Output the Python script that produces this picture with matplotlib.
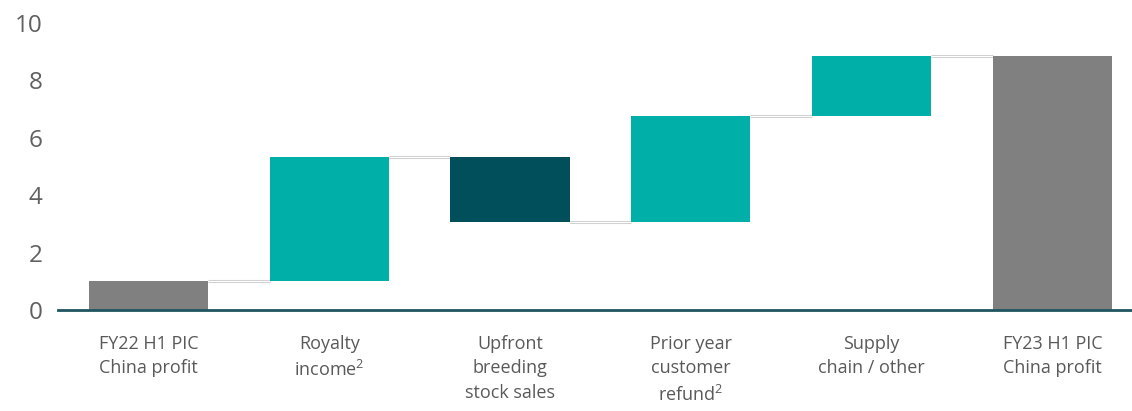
import matplotlib
matplotlib.use("Agg")
import matplotlib.pyplot as plt

categories = ["FY22 H1 PIC\nChina profit", "Royalty\nincome$^{\\mathregular{2}}$",
              "Upfront\nbreeding\nstock sales", "Prior year\ncustomer\nrefund$^{\\mathregular{2}}$",
              "Supply\nchain / other", "FY23 H1 PIC\nChina profit"]
starts = [0.0, 1.0, 5.33, 3.05, 6.75, 0.0]
ends = [1.0, 5.33, 3.05, 6.75, 8.85, 8.85]
kinds = ["total", "up", "down", "up", "up", "total"]
yticks = [0, 2, 4, 6, 8, 10]

colors = {"total": "#808080", "up": "#00B0A8", "down": "#004F5A"}
plt.rcParams['font.family'] = ['Open Sans', 'DejaVu Sans']
plt.rcParams['mathtext.fontset'] = 'custom'
plt.rcParams['mathtext.rm'] = 'Open Sans'

fig = plt.figure(figsize=(11.32, 4.11), dpi=100)
ax = fig.add_axes([58/1132, 1 - 310/411, 1 - 58/1132, (310 - 23)/411])

w = 0.66
x = list(range(len(categories)))
for i in x:
    lo, hi = min(starts[i], ends[i]), max(starts[i], ends[i])
    ax.bar(i, hi - lo, bottom=lo, width=w, color=colors[kinds[i]], zorder=2)

for i in range(len(categories) - 1):
    lvl = ends[i]
    ax.plot([i + w/2, i + 1 - w/2], [lvl, lvl], color="#cfcfcf", lw=2.2, zorder=1,
            solid_capstyle='butt')
    ax.plot([i + w/2, i + 1 - w/2], [lvl, lvl], color="white", lw=0.8, zorder=1.5,
            solid_capstyle='butt')

ax.set_xlim(-0.5, 5.44)
ax.set_ylim(0, 10)
ax.set_yticks(yticks)
ax.set_yticklabels([str(v) for v in yticks], fontsize=17.5, color="#606060")
ax.set_xticks(x)
ax.set_xticklabels(categories, fontsize=13, color="#595959", linespacing=1.45)
ax.tick_params(axis='y', length=0, pad=11)
ax.tick_params(axis='x', length=0, pad=18)
for s in ["top", "right", "left"]:
    ax.spines[s].set_visible(False)
ax.spines["bottom"].set_color("#1F5560")
ax.spines["bottom"].set_linewidth(2)
ax.spines["bottom"].set_zorder(3)

fig.savefig("out.png", dpi=100)
